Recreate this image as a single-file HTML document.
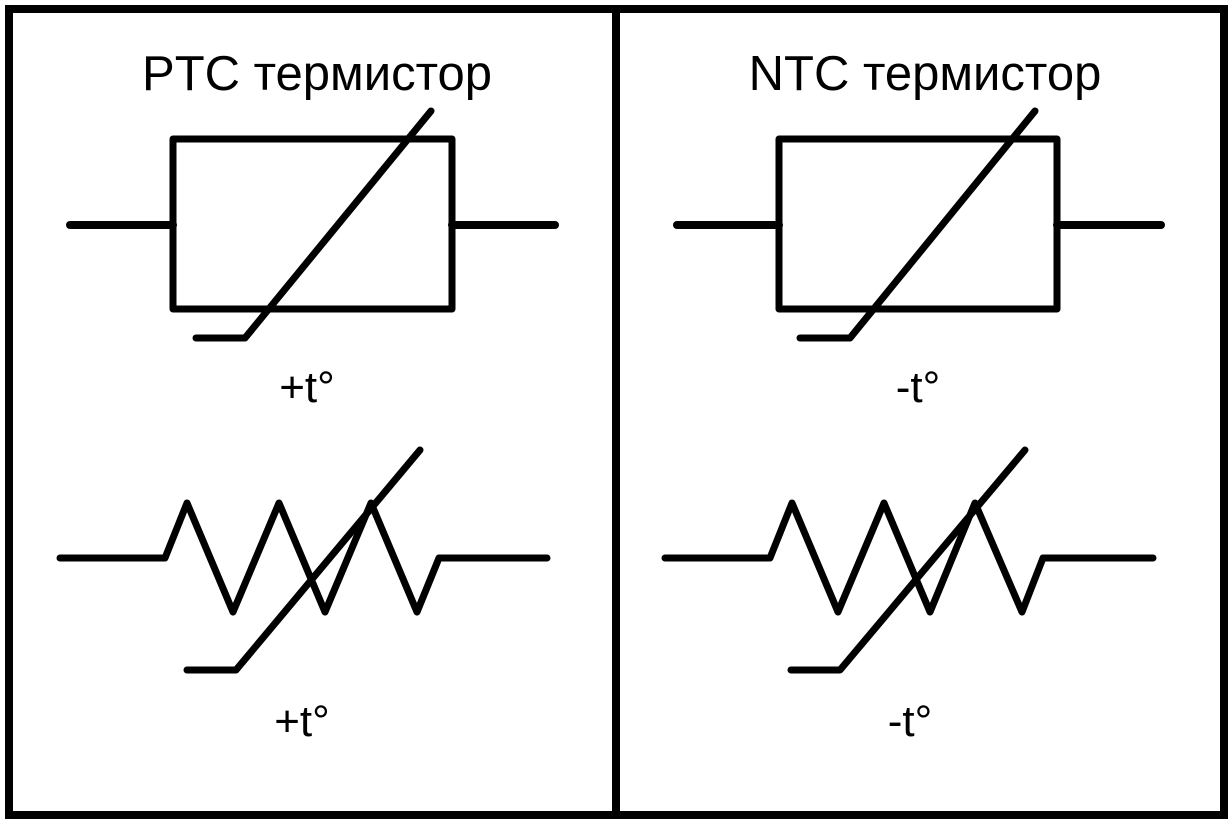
<!DOCTYPE html>
<html><head><meta charset="utf-8"><style>html,body{margin:0;padding:0;background:#fff}svg{display:block}</style></head>
<body>
<svg width="1232" height="823" viewBox="0 0 1232 823" xmlns="http://www.w3.org/2000/svg">
<rect x="0" y="0" width="1232" height="823" fill="#fff"/>
<g fill="none" stroke="#000" stroke-width="8" stroke-linecap="round" stroke-linejoin="round">
<rect x="9" y="9" width="1215" height="806" stroke-width="8" stroke-linejoin="miter"/>
<line x1="616" y1="9" x2="616" y2="815"/>
<rect x="173" y="139" width="279" height="170" stroke-width="7"/>
<line x1="70" y1="225" x2="173" y2="225"/>
<line x1="452" y1="225" x2="555" y2="225"/>
<polyline points="196,338 245,338 431,111" stroke-width="7"/>
<polyline points="60,558 165,558 187,503 233,612 279,503 325,612 371,503 417,612 439,558 547,558" stroke-width="7"/>
<polyline points="187,670 236,670 420,450" stroke-width="7"/>
<rect x="779" y="139" width="278" height="170" stroke-width="7"/>
<line x1="677" y1="225" x2="779" y2="225"/>
<line x1="1057" y1="225" x2="1161" y2="225"/>
<polyline points="800,338 850,338 1035,111" stroke-width="7"/>
<polyline points="665,558 770,558 792,503 838,612 884,503 930,612 975,503 1022,612 1043,558 1153,558" stroke-width="7"/>
<polyline points="791,670 840,670 1025,450" stroke-width="7"/>
</g>
<g font-family="Liberation Sans, sans-serif" fill="#000" text-anchor="middle">
<text x="317" y="90" font-size="49">PTC термистор</text>
<text x="925" y="90" font-size="49">NTC термистор</text>
<text x="307" y="402" font-size="44">+t°</text>
<text x="918" y="402" font-size="44">-t°</text>
<text x="302" y="736" font-size="44">+t°</text>
<text x="910" y="736" font-size="44">-t°</text>
</g>
</svg>
</body></html>
